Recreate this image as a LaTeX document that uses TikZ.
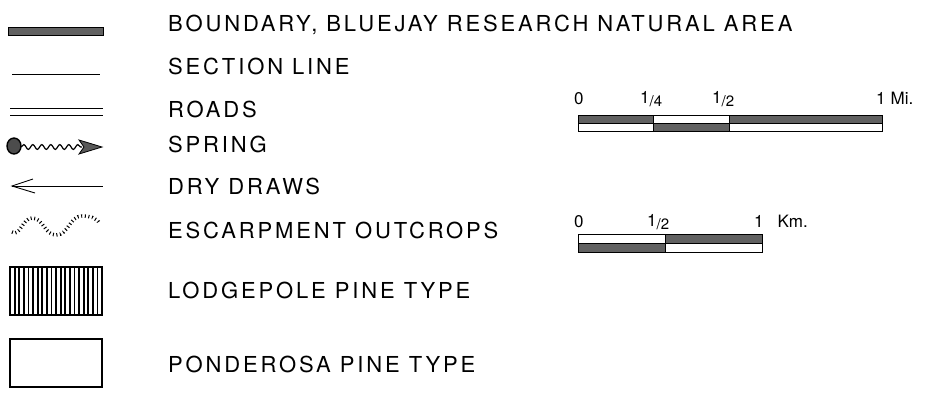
\documentclass[tikz,border=0pt]{standalone}
\usepackage{fontspec}
\setmainfont{TeX Gyre Heros}
\newfontfamily\legfont[LetterSpace=13]{TeX Gyre Heros}
\usetikzlibrary{decorations.pathmorphing}
\begin{document}
\begin{tikzpicture}[x=1pt,y=-1pt,
  lbl/.style={anchor=base west, inner sep=0pt, font=\fontsize{22}{24}\legfont},
  scl/.style={anchor=base west, inner sep=0pt, font=\fontsize{17}{19}\selectfont},
  dk/.style={fill=black!62, draw=black, line width=0.8pt},
  wt/.style={fill=white, draw=black, line width=0.8pt},
  thin line/.style={line width=0.9pt},
  ]
\useasboundingbox[fill=white] (0,0) rectangle (931,392);

% legend symbols
\draw[dk] (8,27) rectangle (103,35);
\draw[thin line] (12,74) -- (100,74);
\draw[thin line] (10,108) -- (103,108);
\draw[thin line] (10,115) -- (103,115);
% spring
\draw[line width=1.2pt, decorate, decoration={snake, amplitude=2.4pt, segment length=9pt}] (21,147) -- (82,147);
\filldraw[fill=black!70, draw=black, line width=1.4pt] (14,146) ellipse (7 and 8);
\filldraw[fill=black!65, draw=black, line width=0.8pt] (79,140) -- (102,147) -- (79,154) -- (84,147) -- cycle;
% dry draws
\draw[thin line] (12,186) -- (103,186);
\draw[thin line] (33,179) -- (12,186) -- (35,193);
% escarpment
\draw[line width=3.5pt, dash pattern=on 1pt off 2.6pt]
  (12,232) to[out=-35,in=180] (32,218) to[out=0,in=180] (56,235) to[out=0,in=180] (82,216) to[out=0,in=120] (100,224);
% lodgepole
\foreach \i in {1,...,19} \draw[line width=1.8pt] (10+\i*4.6,267) -- (10+\i*4.6,315);
\draw[line width=1.1pt] (10,267) rectangle (102,315);
% ponderosa
\draw[line width=1.1pt] (10,339) rectangle (102,387);

% legend labels
\node[lbl] (boundary) at (168,31) {BOUNDARY, BLUEJAY RESEARCH NATURAL AREA};
\node[lbl] (section) at (168,74) {SECTION LINE};
\node[lbl] (roads) at (168,117) {ROADS};
\node[lbl] (spring) at (168,152) {SPRING};
\node[lbl] (draws) at (168,194) {DRY DRAWS};
\node[lbl] (escarp) at (168,238) {ESCARPMENT OUTCROPS};
\node[lbl] (lodge) at (168,298) {LODGEPOLE PINE TYPE};
\node[lbl] (pond) at (168,372) {PONDEROSA PINE TYPE};

% mile scale
\draw[dk] (578,115) rectangle (653,123);
\draw[wt] (653,115) rectangle (729,123);
\draw[dk] (729,115) rectangle (882,123);
\draw[wt] (578,123) rectangle (653,131);
\draw[dk] (653,123) rectangle (729,131);
\draw[wt] (729,123) rectangle (882,131);
\node[scl] (m0) at (574,104) {0};
\node[scl] (mq) at (640,103) {1\raisebox{-3pt}{\fontsize{15}{16}\selectfont/4}};
\node[scl] (mh) at (712,103) {1\raisebox{-3pt}{\fontsize{15}{16}\selectfont/2}};
\node[scl] (m1) at (876,104) {1\hspace{5pt}Mi.};

% km scale
\draw[wt] (578,234) rectangle (665,243);
\draw[dk] (665,234) rectangle (762,243);
\draw[dk] (578,243) rectangle (665,252);
\draw[wt] (665,243) rectangle (762,252);
\node[scl] (k0) at (574,227) {0};
\node[scl] (kh) at (647,226) {1\raisebox{-3pt}{\fontsize{15}{16}\selectfont/2}};
\node[scl] (k1) at (754,227) {1\hspace{14pt}Km.};
\end{tikzpicture}
\end{document}
